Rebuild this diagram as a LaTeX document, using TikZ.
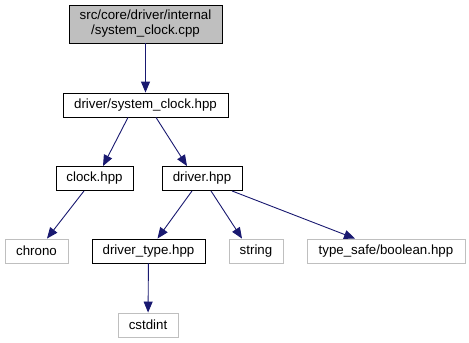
\documentclass[tikz,border=0pt]{standalone}
\usepackage{fontspec}
\setmainfont{Liberation Sans}
\usetikzlibrary{arrows.meta}
\definecolor{edgeblue}{HTML}{191970}
\definecolor{sysgray}{HTML}{BFBFBF}
\tikzset{%
	file/.style     = {draw=black, fill=white, rectangle, inner sep=0pt,
		minimum height=24pt, line width=0.9pt,
		font=\fontsize{13.3}{15}\selectfont},
	sysfile/.style  = {file, draw=sysgray}, % Standard header
	mainfile/.style = {file, fill=sysgray, align=center, minimum height=38pt}, % Source file
	dep/.style      = {draw=edgeblue, line width=0.9pt,
		-{Triangle[length=11pt,width=9pt]}} % Include edge
}

\begin{document}
\begin{tikzpicture}[x=1pt,y=-1pt]
	\useasboundingbox (0,0) rectangle (469,343);

	\node[mainfile, minimum width=153pt] (main) at (145.5,24) {src/core/driver/internal\\/system\_clock.cpp};
	\node[file, minimum width=165pt] (sysclock) at (145.5,105) {driver/system\_clock.hpp};
	\node[file, minimum width=77pt] (clock) at (94.5,178.5) {clock.hpp};
	\node[file, minimum width=80pt] (driver) at (202,178.5) {driver.hpp};
	\node[sysfile, minimum width=63pt] (chrono) at (36.5,251) {chrono};
	\node[file, minimum width=113pt] (drvtype) at (148.5,251) {driver\_type.hpp};
	\node[sysfile, minimum width=54pt] (string) at (256,251) {string};
	\node[sysfile, minimum width=158pt] (boolean) at (386,251) {type\_safe/boolean.hpp};
	\node[sysfile, minimum width=60pt] (cstdint) at (148,325) {cstdint};

	\draw[dep] (main) -- (sysclock);
	\draw[dep] ([xshift=-17.5pt]sysclock.south) -- ([xshift=8.5pt]clock.north);
	\draw[dep] ([xshift=10.5pt]sysclock.south) -- ([xshift=-15pt]driver.north);
	\draw[dep] ([xshift=-10.5pt]clock.south) -- ([xshift=10.5pt]chrono.north);
	\draw[dep] ([xshift=-10pt]driver.south) -- ([xshift=9pt]drvtype.north);
	\draw[dep] ([xshift=9pt]driver.south) -- ([xshift=-14pt]string.north);
	\draw[dep] ([xshift=30pt]driver.south) -- ([xshift=-31pt]boolean.north);
	\draw[dep] (drvtype) -- (cstdint);
\end{tikzpicture}
\end{document}
